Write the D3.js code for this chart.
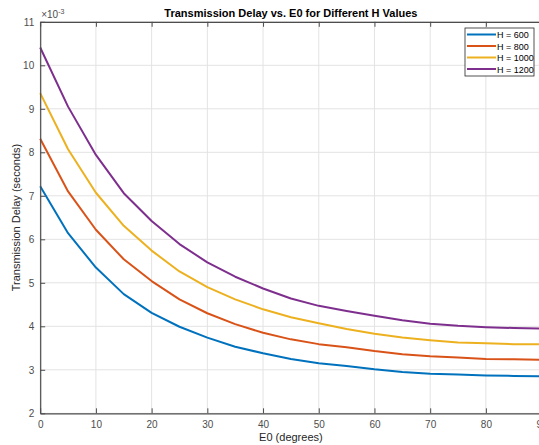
<!DOCTYPE html>
<html>
<head>
<meta charset="utf-8">
<script src="https://cdn.jsdelivr.net/npm/d3@7"></script>
<style>
  body { margin: 0; background: #fff; overflow: hidden; }
  svg { display: block; font-family: "Liberation Sans", Arial, Helvetica, sans-serif; }
</style>
</head>
<body>
<svg id="chart" width="539" height="445"></svg>
<script>
// elevation angles (degrees)
var elevation = [0, 5, 10, 15, 20, 25, 30, 35, 40, 45, 50, 55, 60, 65, 70, 75, 80, 85, 90];

// transmission delay, in units of 1e-3 s
var delayH600  = [7.22, 6.14, 5.35, 4.74, 4.31, 3.99, 3.74, 3.53, 3.38, 3.25, 3.15, 3.09, 3.01, 2.95, 2.91, 2.89, 2.87, 2.86, 2.85];
var delayH800  = [8.31, 7.10, 6.22, 5.54, 5.04, 4.62, 4.30, 4.05, 3.85, 3.70, 3.59, 3.52, 3.43, 3.36, 3.31, 3.28, 3.25, 3.24, 3.23];
var delayH1000 = [9.36, 8.07, 7.07, 6.31, 5.74, 5.26, 4.90, 4.62, 4.39, 4.21, 4.07, 3.94, 3.83, 3.74, 3.68, 3.63, 3.61, 3.59, 3.59];
var delayH1200 = [10.41, 9.05, 7.94, 7.06, 6.42, 5.89, 5.47, 5.14, 4.87, 4.64, 4.47, 4.35, 4.24, 4.14, 4.06, 4.01, 3.98, 3.96, 3.95];

var seriesNames = ["H = 600", "H = 800", "H = 1000", "H = 1200"];
var xTicks = [0, 10, 20, 30, 40, 50, 60, 70, 80, 90];
var yTicks = [2, 3, 4, 5, 6, 7, 8, 9, 10, 11];

var series = [delayH600, delayH800, delayH1000, delayH1200].map(function(vals, i) {
	return { name: seriesNames[i], values: vals.map(function(v, j) { return { x: elevation[j], y: v }; }) };
});

var colors = ["#0072BD", "#D95319", "#EDB120", "#7E2F8E"];

var svg = d3.select("#chart"),
	plotLeft = 40.2, plotRight = 541.6, plotTop = 21.8, plotBottom = 413.3;

var x = d3.scaleLinear().domain([0, 90]).range([plotLeft, plotRight]);
var y = d3.scaleLinear().domain([2, 11]).range([plotBottom, plotTop]);

// grid
var grid = svg.append("g").attr("stroke", "#e3e3e3").attr("stroke-width", 1);
grid.selectAll("line.gx").data(xTicks).enter().append("line")
	.attr("x1", function(d) { return x(d); }).attr("x2", function(d) { return x(d); })
	.attr("y1", plotTop).attr("y2", plotBottom);
grid.selectAll("line.gy").data(yTicks).enter().append("line")
	.attr("x1", plotLeft).attr("x2", plotRight)
	.attr("y1", function(d) { return y(d); }).attr("y2", function(d) { return y(d); });

// lines
var line = d3.line()
	.x(function(d) { return x(d.x); })
	.y(function(d) { return y(d.y); });

svg.append("g").selectAll("path")
	.data(series)
	.enter().append("path")
	.attr("d", function(d) { return line(d.values); })
	.attr("fill", "none")
	.attr("stroke", function(d, i) { return colors[i]; })
	.attr("stroke-width", 2)
	.attr("stroke-linejoin", "round");

// axes (MATLAB style, ticks pointing inward)
var axisColor = "#4d4d4d";
var xAxis = svg.append("g").attr("transform", "translate(0," + plotBottom + ")")
	.call(d3.axisBottom(x).tickValues(xTicks).tickSizeInner(-5).tickSizeOuter(0).tickPadding(8));
var yAxis = svg.append("g").attr("transform", "translate(" + plotLeft + ",0)")
	.call(d3.axisLeft(y).tickValues(yTicks).tickSizeInner(-5).tickSizeOuter(0).tickPadding(6));
var xTop = svg.append("g").attr("transform", "translate(0," + plotTop + ")")
	.call(d3.axisTop(x).tickValues(xTicks).tickSizeInner(-5).tickSizeOuter(0).tickFormat(""));

[xAxis, yAxis, xTop].forEach(function(a) {
	a.select(".domain").attr("stroke", axisColor).attr("stroke-width", 1.2);
	a.selectAll(".tick line").attr("stroke", axisColor);
	a.selectAll(".tick text").attr("fill", axisColor).style("font-size", "10px");
});

// exponent label
var expo = svg.append("text").attr("x", plotLeft + 1).attr("y", 18)
	.attr("fill", axisColor).style("font-size", "10px");
expo.append("tspan").text("\u00d710");
expo.append("tspan").attr("dy", -4).style("font-size", "7px").text("-3");

// title and axis labels
svg.append("text").attr("x", (plotLeft + plotRight) / 2).attr("y", 17)
	.attr("text-anchor", "middle").style("font-size", "11px").style("font-weight", "bold")
	.attr("fill", "#000").text("Transmission Delay vs. E0 for Different H Values");

svg.append("text").attr("x", (plotLeft + plotRight) / 2).attr("y", 441)
	.attr("text-anchor", "middle").style("font-size", "11px").attr("fill", "#262626")
	.text("E0 (degrees)");

svg.append("text").attr("transform", "translate(20," + ((plotTop + plotBottom) / 2) + ") rotate(-90)")
	.attr("text-anchor", "middle").style("font-size", "11px").attr("fill", "#262626")
	.text("Transmission Delay (seconds)");

// legend
var legend = svg.append("g").attr("transform", "translate(465,28)");
legend.append("rect").attr("width", 69).attr("height", 48)
	.attr("fill", "#fff").attr("stroke", "#262626").attr("stroke-width", 0.8);
var items = legend.selectAll("g.item").data(series).enter().append("g")
	.attr("transform", function(d, i) { return "translate(0," + (6.5 + i * 11.5) + ")"; });
items.append("line").attr("x1", 2).attr("x2", 31).attr("y1", 0).attr("y2", 0)
	.attr("stroke", function(d, i) { return colors[i]; }).attr("stroke-width", 2);
items.append("text").attr("x", 32).attr("y", 3.5).style("font-size", "9px").attr("fill", "#000")
	.text(function(d) { return d.name; });
</script>
</body>
</html>
